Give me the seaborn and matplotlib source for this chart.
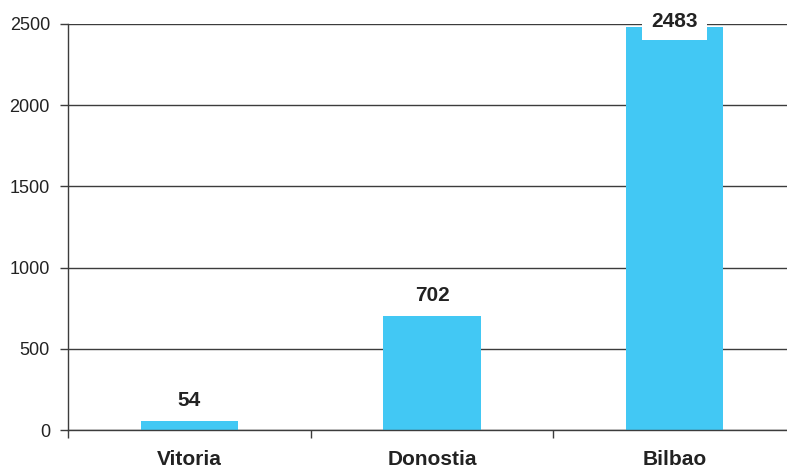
import matplotlib
matplotlib.use("Agg")
import matplotlib.pyplot as plt
import seaborn as sns
import pandas as pd

categories = ["Vitoria", "Donostia", "Bilbao"]
values = [54, 702, 2483]
yticks = [0, 500, 1000, 1500, 2000, 2500]

sns.set_theme(style="white")
plt.rcParams['font.family'] = ['Liberation Sans', 'DejaVu Sans']

df = pd.DataFrame({"city": categories, "value": values})

fig = plt.figure(figsize=(7.87, 4.73), dpi=100)
ax = fig.add_axes([68/787, 43/473, 728/787, 406/473])

line_col = "#3c3c3c"
sns.barplot(data=df, x="city", y="value", color="#42C8F4", saturation=1,
            width=0.40, ax=ax, zorder=2, edgecolor="none", linewidth=0)

ax.set_ylim(0, 2500)
ax.set_xlim(-0.5, 2.5)
ax.set_yticks(yticks)
ax.set_yticklabels([str(t) for t in yticks], fontsize=13, color="#222222")
ax.yaxis.grid(True, color=line_col, linewidth=1.0, zorder=0)
ax.set_axisbelow(True)

# category boundary ticks (major) and labels at centers (minor)
ax.set_xticks([-0.5, 0.5, 1.5, 2.5])
ax.set_xticklabels([])
ax.set_xticks(range(len(categories)), minor=True)
ax.set_xticklabels(categories, minor=True, fontsize=15, fontweight="bold",
                   color="#222222")
ax.tick_params(axis="x", which="major", direction="out", length=6, width=1.0,
               color=line_col, bottom=True)
ax.tick_params(axis="x", which="minor", length=0, pad=14.5)
ax.tick_params(axis="y", direction="out", length=6, width=1.0, color=line_col,
               left=True, pad=7)

ax.set_xlabel("")
ax.set_ylabel("")
for s in ["top", "right"]:
    ax.spines[s].set_visible(False)
for s in ["left", "bottom"]:
    ax.spines[s].set_color(line_col)
    ax.spines[s].set_linewidth(1.0)

ymax = ax.get_ylim()[1]
for i, v in enumerate(values):
    if v + 150 > ymax:
        ax.annotate(str(v), xy=(i, v), xytext=(0, 0), textcoords="offset points",
                    ha="center", va="baseline", fontsize=15, fontweight="bold",
                    color="#222222", zorder=5,
                    bbox=dict(boxstyle="square,pad=0.45", fc="white", ec="none"))
    else:
        ax.annotate(str(v), xy=(i, v), xytext=(0, 11), textcoords="offset points",
                    ha="center", va="baseline", fontsize=15, fontweight="bold",
                    color="#222222", zorder=5)

fig.savefig("out.png", dpi=100)
